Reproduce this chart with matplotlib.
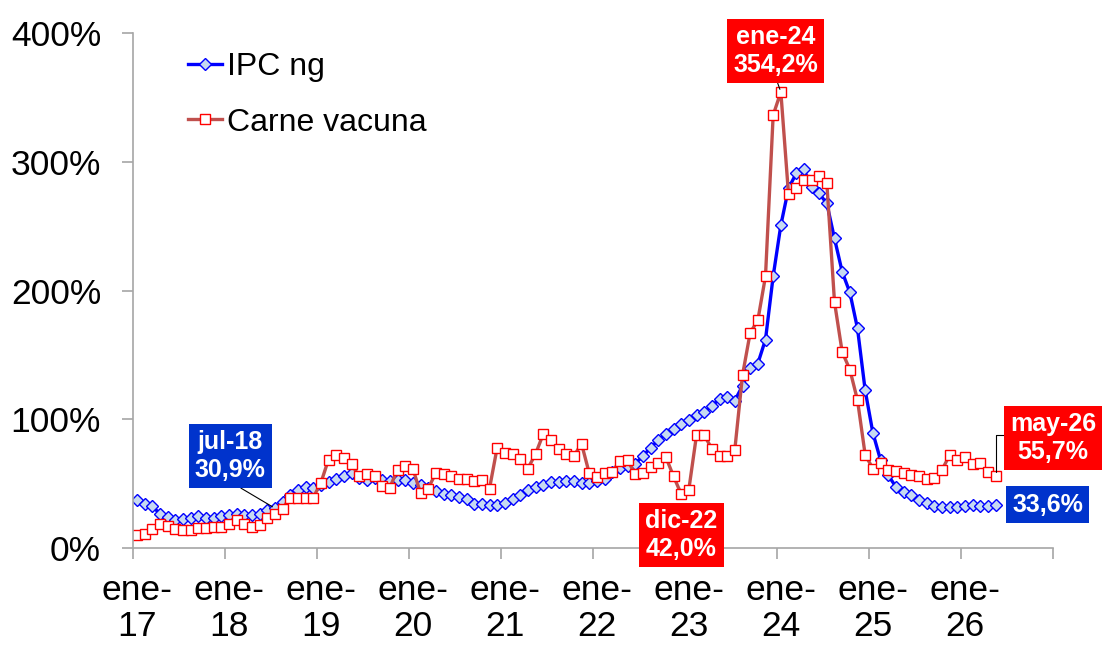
import matplotlib
matplotlib.use('Agg')
from matplotlib import pyplot as plt
import numpy as np

# meses y año inicial de la serie (ene-17)
meses = ['ene', 'feb', 'mar', 'abr', 'may', 'jun', 'jul', 'ago', 'sep', 'oct', 'nov', 'dic']
anio_inicio = 17

# variación interanual (%) - IPC núcleo general
ipc_ng = [
	37.1, 34.5, 32.4, 26.7, 24.1, 22.0, 22.8, 23.6, 24.6, 23.6, 23.1, 24.6,
	25.4, 26.7, 26.0, 25.4, 26.7, 29.3, 30.9, 36.0, 40.9, 45.4, 47.4, 46.9,
	48.7, 51.3, 53.9, 55.7, 58.3, 54.7, 53.1, 54.7, 53.1, 52.1, 53.1, 53.1,
	50.5, 48.7, 46.9, 44.3, 41.7, 40.9, 39.6, 38.1, 34.5, 34.5, 33.2, 33.2,
	35.3, 38.0, 41.3, 44.8, 47.2, 49.1, 50.9, 51.3, 52.1, 52.1, 50.5, 50.5,
	52.1, 53.9, 59.1, 62.5, 63.5, 65.6, 71.3, 78.0, 83.7, 88.3, 92.8, 96.1,
	99.2, 103.1, 105.7, 110.0, 116.0, 117.3, 114.5, 126.0, 140.0, 143.3, 161.9, 211.1,
	250.7, 279.3, 290.9, 294.0, 280.5, 275.4, 267.6, 240.4, 214.5, 198.5, 170.5, 122.5,
	89.6, 68.4, 56.5, 47.6, 43.5, 40.9, 37.6, 35.0, 32.4, 31.9, 31.9, 31.9,
	32.4, 33.2, 32.4, 32.4, 33.6,
]

# variación interanual (%) - carne vacuna
carne_vacuna = [
	9.9, 11.2, 15.1, 19.0, 16.9, 15.1, 14.3, 14.3, 15.8, 15.8, 16.4, 16.4,
	18.5, 21.6, 18.5, 16.4, 17.7, 23.6, 26.7, 30.6, 39.1, 39.1, 39.1, 39.1,
	50.5, 68.7, 72.0, 70.2, 65.0, 55.7, 57.3, 55.7, 47.9, 46.9, 60.9, 63.5,
	61.7, 42.7, 46.2, 58.3, 57.3, 55.7, 53.9, 53.9, 52.1, 52.6, 46.2, 78.0,
	73.4, 72.8, 69.5, 61.7, 73.0, 88.3, 84.2, 77.2, 72.8, 71.3, 81.1, 58.3,
	55.2, 58.3, 59.1, 67.6, 68.1, 57.3, 58.3, 62.9, 66.0, 70.7, 55.7, 42.0,
	45.4, 87.6, 87.6, 77.2, 71.3, 71.3, 76.5, 134.2, 167.1, 176.9, 211.1, 336.2,
	354.2, 274.8, 279.3, 285.7, 285.7, 288.8, 283.6, 191.0, 152.3, 138.6, 114.8, 72.4,
	61.7, 65.8, 60.6, 59.8, 58.3, 56.5, 55.7, 53.9, 54.7, 60.4, 72.0, 68.7,
	70.7, 65.0, 66.0, 59.1, 55.7,
]

plt.rcParams['font.family'] = ['Liberation Sans', 'DejaVu Sans']


def etiqueta_mes(i):
	return '{}-{}'.format(meses[i % 12], anio_inicio + i // 12)


def pct(v):
	return '{:.1f}%'.format(v).replace('.', ',')


def main():
	n = len(ipc_ng)
	x = np.arange(n)

	fig = plt.figure(figsize=(11.02, 6.45), dpi=100)
	ax = fig.add_axes([133 / 1102, 97 / 645, 920 / 1102, 515 / 645])

	ax.plot(x, ipc_ng, color='#0000FF', lw=2.4, marker='D', ms=6,
			mfc='#C6D9F1', mec='#0000FF', mew=1.0, label='IPC ng')
	ax.plot(x, carne_vacuna, color='#C0504D', lw=2.4, marker='s', ms=6.6,
			mfc='white', mec='#FF0000', mew=1.0, label='Carne vacuna')

	ax.set_xlim(-0.5, 119.5)
	ax.set_ylim(0, 400)

	gris = '#A6A6A6'
	ax.spines['right'].set_color('none')
	ax.spines['top'].set_color('none')
	ax.spines['left'].set_color(gris)
	ax.spines['bottom'].set_color(gris)
	ax.spines['left'].set_linewidth(1.2)
	ax.spines['bottom'].set_linewidth(1.2)

	# etiquetas en enero de cada año, marcas entre categorías
	anios = np.arange(0, 120, 12)
	ax.set_xticks(anios)
	ax.set_xticklabels([etiqueta_mes(i).replace('-', '-\n') for i in anios])
	ax.set_xticks(np.arange(-0.5, 120, 12), minor=True)
	ax.tick_params(axis='x', which='major', length=0, pad=19, labelsize=25.5)
	ax.tick_params(axis='x', which='minor', length=8, width=1.2, color=gris)
	for t in ax.get_xticklabels():
		t.set_linespacing(1.1)

	ax.set_yticks(np.arange(0, 401, 100))
	ax.set_yticklabels(['{}%'.format(v) for v in range(0, 401, 100)])
	ax.tick_params(axis='y', length=8, width=1.2, color=gris, pad=15, labelsize=25.5)

	ax.legend(loc='upper left', bbox_to_anchor=(188 / 1102, 1 - 52 / 645),
			  bbox_transform=fig.transFigure, frameon=False, fontsize=23,
			  handlelength=1.07, handletextpad=0.15, labelspacing=0.8,
			  borderpad=0, borderaxespad=0)

	rojo = '#FF0000'
	azul = '#0033CC'
	txt = dict(color='white', fontsize=18, fontweight='bold', ha='center', va='center',
			   annotation_clip=False)

	i = 18
	ax.annotate(etiqueta_mes(i) + '\n' + pct(ipc_ng[i]), xy=(i, ipc_ng[i]), xytext=(12.2, 71.5),
				bbox=dict(boxstyle='square,pad=0.25', fc=azul, ec='none'),
				arrowprops=dict(arrowstyle='-', color='black', lw=0.8, relpos=(0.5, 0),
								shrinkA=0, shrinkB=2), **txt)

	i = 84
	ax.annotate(etiqueta_mes(i) + '\n' + pct(carne_vacuna[i]), xy=(i, carne_vacuna[i]),
				xytext=(83.3, 386),
				bbox=dict(boxstyle='square,pad=0.25', fc=rojo, ec='none'),
				arrowprops=dict(arrowstyle='-', color='black', lw=0.8, relpos=(0.5, 0),
								shrinkA=0, shrinkB=2), **txt)

	i = 71
	ax.annotate(etiqueta_mes(i) + '\n' + pct(carne_vacuna[i]), xy=(i, carne_vacuna[i]),
				xytext=(71.05, 9.9),
				bbox=dict(boxstyle='square,pad=0.25', fc=rojo, ec='none'), **txt)

	i = n - 1
	ax.annotate(etiqueta_mes(i) + '\n' + pct(carne_vacuna[i]), xy=(i, carne_vacuna[i]),
				xytext=(119.5, 85.5),
				bbox=dict(boxstyle='square,pad=0.25', fc=rojo, ec='none'),
				arrowprops=dict(arrowstyle='-', color='black', lw=0.8, relpos=(0, 0.55),
								connectionstyle='angle,angleA=0,angleB=90,rad=0',
								shrinkA=0, shrinkB=3), **txt)

	ax.annotate(pct(ipc_ng[i]), xy=(i, ipc_ng[i]), xytext=(118.8, 33.6),
				bbox=dict(boxstyle='square,pad=0.25', fc=azul, ec='none'), **txt)

	fig.savefig('out.png', dpi=100)


if __name__ == '__main__':
	main()
